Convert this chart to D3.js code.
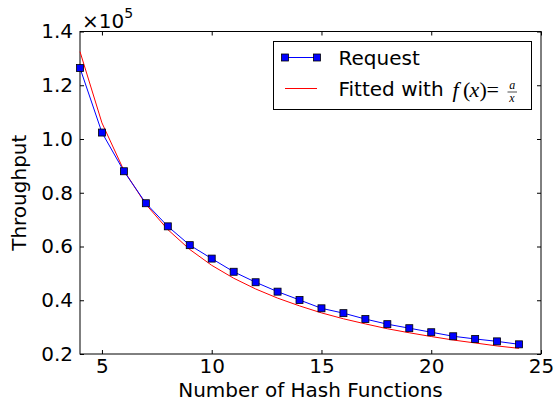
<!DOCTYPE html>
<html>
<head>
<meta charset="utf-8">
<script src="https://cdn.jsdelivr.net/npm/d3@7"></script>
<style>
  body { margin: 0; background: #fff; }
  text { font-family: "DejaVu Sans", sans-serif; fill: #000; }
</style>
</head>
<body>
<script>
// data (throughput in units of 1e5)
const hashCounts = [4, 5, 6, 7, 8, 9, 10, 11, 12, 13, 14, 15, 16, 17, 18, 19, 20, 21, 22, 23, 24];
const requestThroughput = [1.264, 1.024, 0.880, 0.761, 0.675, 0.605, 0.555, 0.506, 0.467, 0.432, 0.401,
    0.370, 0.352, 0.330, 0.311, 0.296, 0.281, 0.266, 0.256, 0.247, 0.236];
const fittedThroughput = [1.325, 1.060, 0.883, 0.757, 0.663, 0.589, 0.530, 0.482, 0.442, 0.408, 0.379,
    0.353, 0.331, 0.312, 0.294, 0.279, 0.265, 0.252, 0.241, 0.230, 0.221];
const xTicks = [5, 10, 15, 20, 25];
const yTicks = [0.2, 0.4, 0.6, 0.8, 1.0, 1.2, 1.4];

const width = 559, height = 402;
const margin = {top: 31.5, right: 18, bottom: 48, left: 80};

const svg = d3.select("body").append("svg")
    .attr("width", width)
    .attr("height", height);

const x = d3.scaleLinear().domain([4, 25]).range([margin.left, width - margin.right]);
const y = d3.scaleLinear().domain([0.2, 1.4]).range([height - margin.bottom, margin.top]);

// axes, ticks pointing inward
const axisStyle = g => {
    g.select(".domain").remove();
    g.selectAll("line").attr("stroke", "#000");
    g.selectAll("text").style("font-size", "20px").attr("fill", "#000");
};

svg.append("g")
    .attr("transform", `translate(0,${y(0.2)})`)
    .call(d3.axisBottom(x).tickValues(xTicks).tickSize(-4).tickPadding(5).tickFormat(d3.format("d")))
    .call(axisStyle)
    .attr("font-family", null);

svg.append("g")
    .attr("transform", `translate(0,${y(1.4)})`)
    .call(d3.axisTop(x).tickValues(xTicks).tickSize(-4).tickFormat(""))
    .call(axisStyle);

svg.append("g")
    .attr("transform", `translate(${x(4)},0)`)
    .call(d3.axisLeft(y).tickValues(yTicks).tickSize(-4).tickPadding(7).tickFormat(d3.format(".1f")))
    .call(axisStyle)
    .attr("font-family", null);

svg.append("g")
    .attr("transform", `translate(${x(25)},0)`)
    .call(d3.axisRight(y).tickValues(yTicks).tickSize(-4).tickFormat(""))
    .call(axisStyle);

// frame
svg.append("rect")
    .attr("x", x(4)).attr("y", y(1.4))
    .attr("width", x(25) - x(4)).attr("height", y(0.2) - y(1.4))
    .attr("fill", "none").attr("stroke", "#000").attr("stroke-width", 1);

// offset text
const off = svg.append("text").attr("x", x(4) + 2).attr("y", 28).style("font-size", "20px");
off.append("tspan").text("×10");
off.append("tspan").attr("dy", -10).style("font-size", "14px").text("5");

// axis labels
svg.append("text")
    .attr("x", (x(4) + x(25)) / 2).attr("y", 397)
    .attr("text-anchor", "middle").style("font-size", "20px")
    .text("Number of Hash Functions");

svg.append("text")
    .attr("transform", `translate(26,${(y(0.2) + y(1.4)) / 2}) rotate(-90)`)
    .attr("text-anchor", "middle").style("font-size", "20px")
    .text("Throughput");

// series
const pts = hashCounts.map((h, i) => ({h, req: requestThroughput[i], fit: fittedThroughput[i]}));

svg.append("path")
    .datum(pts)
    .attr("fill", "none").attr("stroke", "#ff0000").attr("stroke-width", 1)
    .attr("d", d3.line().x(d => x(d.h)).y(d => y(d.fit)));

svg.append("path")
    .datum(pts)
    .attr("fill", "none").attr("stroke", "#0000ff").attr("stroke-width", 1)
    .attr("d", d3.line().x(d => x(d.h)).y(d => y(d.req)));

const ms = 7;
svg.selectAll(".marker")
    .data(pts)
    .enter().append("rect")
    .attr("class", "marker")
    .attr("x", d => x(d.h) - ms / 2)
    .attr("y", d => y(d.req) - ms / 2)
    .attr("width", ms).attr("height", ms)
    .attr("fill", "#0000ff").attr("stroke", "#000").attr("stroke-width", 0.8);

// legend
const lg = svg.append("g").attr("transform", "translate(273.5,41.5)");
lg.append("rect").attr("width", 258).attr("height", 68)
    .attr("fill", "#fff").attr("stroke", "#000").attr("stroke-width", 1);

lg.append("line").attr("x1", 11.5).attr("x2", 43.5).attr("y1", 16).attr("y2", 16)
    .attr("stroke", "#0000ff").attr("stroke-width", 1);
[11.5, 43.5].forEach(cx => {
    lg.append("rect").attr("x", cx - ms / 2).attr("y", 16 - ms / 2)
        .attr("width", ms).attr("height", ms)
        .attr("fill", "#0000ff").attr("stroke", "#000").attr("stroke-width", 0.8);
});
lg.append("text").attr("x", 65).attr("y", 23.5).style("font-size", "20px").text("Request");

lg.append("line").attr("x1", 11.5).attr("x2", 43.5).attr("y1", 47).attr("y2", 47)
    .attr("stroke", "#ff0000").attr("stroke-width", 1);
lg.append("text").attr("x", 65).attr("y", 54).style("font-size", "20px").text("Fitted with");

// f(x) = a/x in math style, one text element
const mathFont = "'Liberation Serif', 'DejaVu Serif', serif";
const math = lg.append("text").style("font-family", mathFont).style("font-size", "22px");
const glyph = (gx, gy, s, italic, size) => math.append("tspan")
    .attr("x", gx).attr("y", gy)
    .style("font-style", italic ? "italic" : "normal")
    .style("font-size", size ? size + "px" : null)
    .text(s);
glyph(179, 55.5, "f", true);
glyph(189.5, 55.5, "(", false);
glyph(196, 55.5, "x", true);
glyph(206, 55.5, ")", false);
glyph(213, 55.5, "=", false);
glyph(235.8, 47.5, "a", true, 12);
glyph(235.8, 60.8, "x", true, 12);
lg.append("line").attr("x1", 234).attr("x2", 243.5).attr("y1", 50.5).attr("y2", 50.5)
    .attr("stroke", "#000").attr("stroke-width", 0.7);
</script>
</body>
</html>
